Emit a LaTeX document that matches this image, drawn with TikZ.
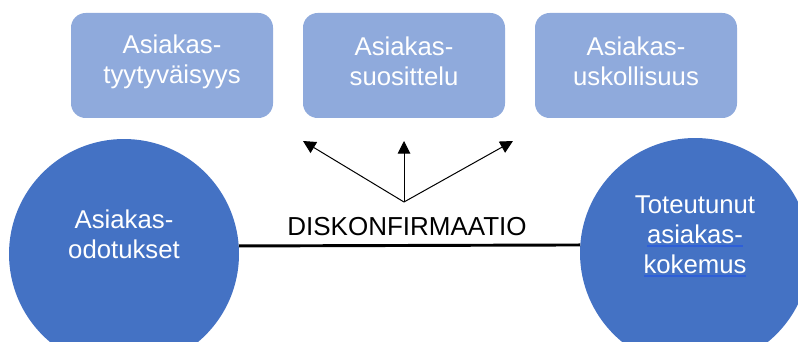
\documentclass[tikz,border=0pt]{standalone}
\usepackage{fontspec}
\setmainfont{Liberation Sans}
\usetikzlibrary{arrows.meta}

\definecolor{boxblue}{HTML}{8FAADC}
\definecolor{ballblue}{HTML}{4472C4}
\definecolor{ulblue}{HTML}{2E5FD9}

\newlength{\ulpituus}
\newcommand{\sininen}[1]{\settowidth{\ulpituus}{#1}\rlap{\color{ulblue}\rule[-2.6pt]{\ulpituus}{0.9pt}}#1}

\begin{document}
\begin{tikzpicture}[x=0.75pt,y=-0.75pt,
    laatikko/.style={fill=boxblue, rounded corners=11pt, minimum width=151.5pt, minimum height=78.75pt, inner sep=0pt},
    pallo/.style={circle, fill=ballblue, minimum size=172.5pt, inner sep=0pt},
    teksti/.style={text=white, align=center, font=\fontsize{19.3}{22.5}\selectfont},
    nuoli/.style={-{Triangle[length=9.5pt,width=9.5pt]}, line width=0.75pt}]
    \def\ylin{65.5}
    \def\yteksti{61.5}

    \useasboundingbox (0,0) rectangle (798,342);
    \clip (0,0) rectangle (798,342);

    % Laatikot ylhaalla
    \node[laatikko] (tyyt) at (172,\ylin) {};
    \node[laatikko] (suos) at (404,\ylin) {};
    \node[laatikko] (usko) at (636,\ylin) {};
    \node[teksti] (tyytt) at (172,\yteksti) {Asiakas-\\tyytyväisyys};
    \node[teksti] (suost) at (404,\yteksti) {Asiakas-\\suosittelu};
    \node[teksti] (uskot) at (636,\yteksti) {Asiakas-\\uskollisuus};

    % Pallot
    \node[pallo] (odot) at (124,254) {};
    \node[pallo] (koke) at (695,253) {};
    \node[teksti] (odott) at (124,234) {Asiakas-\\odotukset};
    \node[teksti] (koket) at (695,236) {Toteutunut\\\sininen{asiakas-}\\\sininen{kokemus}};

    % Viiva ja teksti
    \draw[line width=2.2pt] (odot.4) -- (koke.176);
    \node[anchor=base, font=\fontsize{19.5}{23}\selectfont] (disk) at (407,235) {DISKONFIRMAATIO};

    % Nuolet
    \coordinate (alku) at (404,202);
    \coordinate (vasen) at (303,141);
    \coordinate (keski) at (404,141);
    \coordinate (oikea) at (513,141);
    \draw[nuoli] (alku) -- (vasen);
    \draw[nuoli] (alku) -- (keski);
    \draw[nuoli] (alku) -- (oikea);

\end{tikzpicture}
\end{document}
